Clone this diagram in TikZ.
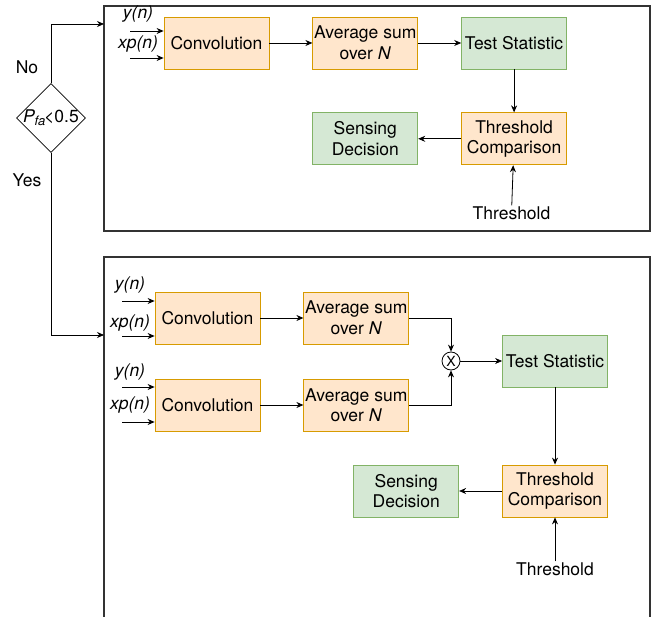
\documentclass[tikz,border=0pt]{standalone}
\usepackage{fontspec}
\setmainfont{TeX Gyre Heros}
\usetikzlibrary{positioning,shapes.geometric,arrows.meta}
\definecolor{orfill}{HTML}{FFE6CC}
\definecolor{orline}{HTML}{D79B00}
\definecolor{grfill}{HTML}{D5E8D4}
\definecolor{grline}{HTML}{82B366}
\begin{document}
\begin{tikzpicture}[x=1pt, y=-1pt, node distance={43pt},
  font=\fontsize{17.5}{20.5}\selectfont,
  proc/.style = {draw=orline, fill=orfill, line width=0.8pt, minimum width=105pt, minimum height=52pt, align=center, inner sep=1pt},
  stat/.style = {draw=grline, fill=grfill, line width=0.8pt, minimum width=105pt, minimum height=52pt, align=center, inner sep=1pt},
  txt/.style = {inner sep=1pt},
  arr/.style = {-{Stealth[length=7pt,width=6pt]}, line width=0.8pt},
  frame/.style = {draw=black!80, line width=1.2pt}]
\useasboundingbox (0,0) rectangle (652,617);
% frames
\draw[frame] (104,6) rectangle (650,231);
\draw[frame] (104,617) -- (104,257) -- (650,257) -- (650,617);
% decision
\node[draw, diamond, minimum size=69pt, inner sep=0pt, line width=0.8pt] (pfa) at (51,118) {};
\node[txt] (pfatext) at (pfa.center) {\textit{P}\kern-0.5pt\raisebox{-0.35ex}{\fontsize{13}{13}\selectfont\textit{fa}}\kern-1pt<0.5};
\node[txt] (no) at (27,67) {No};
\node[txt] (yes) at (27,180) {Yes};
\coordinate (noin) at (104,24);
\coordinate (yesin) at (104,335);
\draw[arr] (pfa.north) |- (noin);
\draw[arr] (pfa.south) |- (yesin);
% upper frame
\node[proc] (conv) at (216.5,43) {Convolution};
\node[proc] (avg) [right=of conv] {Average sum\\over \textit{N}};
\node[stat] (test) [right=of avg] {Test Statistic};
\node[proc] (thr) [below=of test] {Threshold\\Comparison};
\node[stat] (dec) [left=of thr] {Sensing\\Decision};
\node[txt] (thrin) at (511.5,213) {Threshold};
\node[txt] (ylab) at (138,14) {\textit{y(n)}};
\node[txt] (xlab) at (138,44) {\textit{xp(n)}};
\coordinate (yin) at (130,31);
\coordinate (xin) at (130,58);
\draw[arr] (yin) -- (yin -| conv.west);
\draw[arr] (xin) -- (xin -| conv.west);
\draw[arr] (conv) -- (avg);
\draw[arr] (avg) -- (test);
\draw[arr] (test) -- (thr);
\draw[arr] (thr) -- (dec);
\draw[arr] (thrin) -- (thr);
% lower frame
\node[proc] (conv1) at (207.5,318) {Convolution};
\node[proc] (conv2) at (207.5,405) {Convolution};
\node[proc] (avg1) [right=of conv1] {Average sum\\over \textit{N}};
\node[proc] (avg2) [right=of conv2] {Average sum\\over \textit{N}};
\node[draw, circle, minimum size=18pt, inner sep=0pt, line width=0.8pt, font=\fontsize{14}{14}\selectfont] (mul) at (451,361) {X};
\node[stat] (test2) at (555,361) {Test Statistic};
\node[proc] (thr2) at (555,491) {Threshold\\Comparison};
\node[stat] (dec2) [left=of thr2] {Sensing\\Decision};
\node[txt] (thrin2) at (555,569) {Threshold};
\node[txt] (ylab1) at (130,285) {\textit{y(n)}};
\node[txt] (xlab1) at (130,323) {\textit{xp(n)}};
\node[txt] (ylab2) at (130,372) {\textit{y(n)}};
\node[txt] (xlab2) at (130,405) {\textit{xp(n)}};
\coordinate (yin1) at (122,301);
\coordinate (xin1) at (122,336);
\coordinate (yin2) at (122,387);
\coordinate (xin2) at (122,422);
\draw[arr] (yin1) -- (yin1 -| conv1.west);
\draw[arr] (xin1) -- (xin1 -| conv1.west);
\draw[arr] (yin2) -- (yin2 -| conv2.west);
\draw[arr] (xin2) -- (xin2 -| conv2.west);
\draw[arr] (conv1) -- (avg1);
\draw[arr] (conv2) -- (avg2);
\draw[arr] (avg1.east) -| (mul.north);
\draw[arr] (avg2.east) -| (mul.south);
\draw[arr] (mul) -- (test2);
\draw[arr] (test2) -- (thr2);
\draw[arr] (thr2) -- (dec2);
\draw[arr] (thrin2) -- (thr2);
\end{tikzpicture}
\end{document}
